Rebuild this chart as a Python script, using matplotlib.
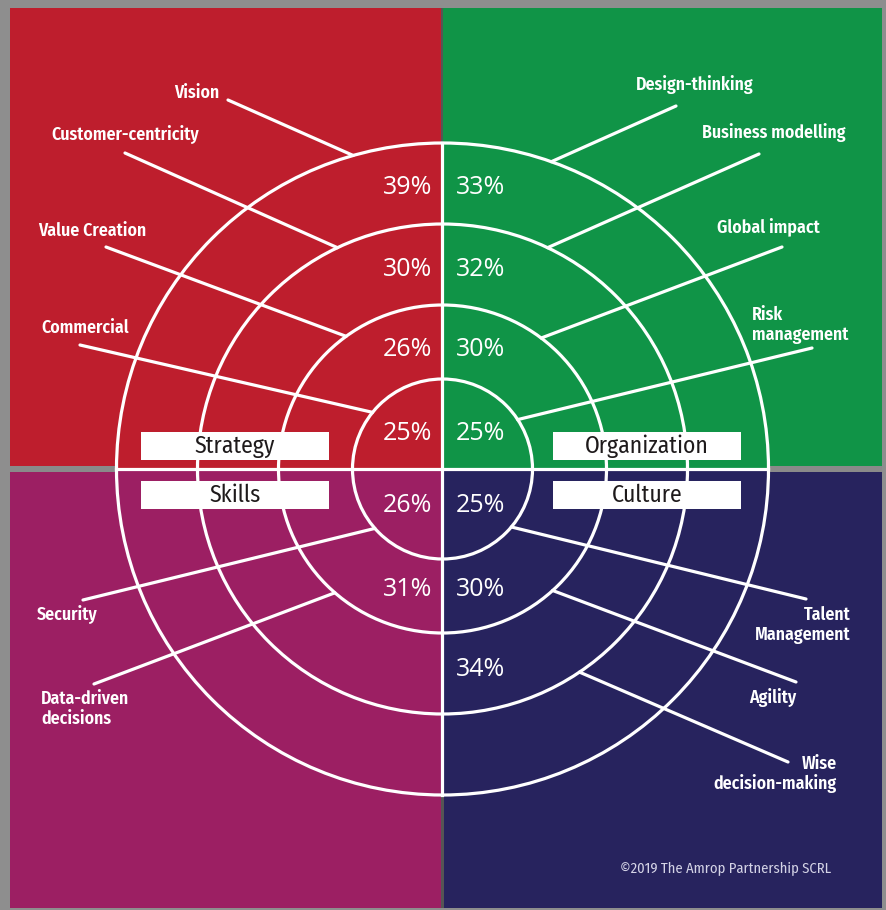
import numpy as np
import matplotlib
matplotlib.use("Agg")
import matplotlib.pyplot as plt
from matplotlib.patches import Rectangle, Circle

# data: items per quadrant, listed from the inner ring outwards
quadrants = ["Strategy", "Organization", "Skills", "Culture"]
strategy_items = ["Commercial", "Value Creation", "Customer-centricity", "Vision"]
strategy_pct = [25, 26, 30, 39]
organization_items = ["Risk\nmanagement", "Global impact", "Business modelling", "Design-thinking"]
organization_pct = [25, 30, 32, 33]
skills_items = ["Security", "Data-driven\ndecisions"]
skills_pct = [26, 31]
culture_items = ["Talent\nManagement", "Agility", "Wise\ndecision-making"]
culture_pct = [25, 30, 34]

# layout (pixels)
W, H = 887, 910
cx, cy = 442.5, 469
radii = [90, 164, 245, 326]
pct_dist = [36, 120, 200, 282]
colors = {"Strategy": "#be1e2d", "Organization": "#109447",
          "Skills": "#9c1f63", "Culture": "#27235e"}

# leader line: angle on ring (deg, counter-clockwise from east), outer end, label pos, align
strategy_lay = [(141, (80, 345), (85, 328), "center"),
                (126, (106, 247), (92, 231), "center"),
                (115.4, (125, 153), (125, 135), "center"),
                (105.9, (228, 100), (197, 93), "center")]
organization_lay = [(33.3, (812, 348), (752, 325), "left"),
                    (53, (782, 247), (768, 228), "center"),
                    (64.6, (759, 154), (774, 133), "center"),
                    (70.5, (676, 106), (695, 85), "center")]
skills_lay = [(-138.7, (83, 600), (67, 615), "center"),
              (-131, (94, 684), (41, 709), "left")]
culture_lay = [(-40.1, (806, 599), (851, 625), "right"),
               (-47.8, (796, 682), (773, 698), "center"),
               (-56, (788, 762), (837, 774), "right")]

narrow = ["Fira Sans Condensed", "Roboto Condensed", "Asap Condensed",
          "Liberation Sans Narrow", "Lato", "DejaVu Sans"]

fig = plt.figure(figsize=(W / 100, H / 100), dpi=100)
fig.patch.set_facecolor("#8e8e8e")
ax = fig.add_axes([0, 0, 1, 1])
ax.set_xlim(0, W)
ax.set_ylim(H, 0)
ax.axis("off")

# quadrant panels
ax.add_patch(Rectangle((10, 8), 433, 461, color=colors["Strategy"], lw=0))
ax.add_patch(Rectangle((443, 8), 439, 461, color=colors["Organization"], lw=0))
ax.add_patch(Rectangle((10, 469), 433, 439, color=colors["Skills"], lw=0))
ax.add_patch(Rectangle((443, 469), 439, 439, color=colors["Culture"], lw=0))
# grey gaps outside the circle
gap = "#8a8a8a"
ax.add_patch(Rectangle((10, 466), cx - radii[-1] - 10, 6, color=gap, lw=0))
ax.add_patch(Rectangle((cx + radii[-1], 466), 882 - cx - radii[-1], 6, color=gap, lw=0))
ax.add_patch(Rectangle((cx - 1, 8), 2, cy - radii[-1] - 8, color="#555555", lw=0))
ax.add_patch(Rectangle((cx - 1.5, cy + radii[-1]), 3, 908 - cy - radii[-1], color="#555555", lw=0))

# rings and axes
for r in radii:
    ax.add_patch(Circle((cx, cy), r, fill=False, ec="white", lw=2.3))
ax.plot([cx - radii[-1], cx + radii[-1]], [cy, cy], color="white", lw=2.3)
ax.plot([cx, cx], [cy - radii[-1], cy + radii[-1]], color="white", lw=2.3)


def draw_quadrant(items, pct, lay, side, up):
    for i, (name, p, (ang, end, tpos, ha)) in enumerate(zip(items, pct, lay)):
        a = np.radians(ang)
        x0 = cx + radii[i] * np.cos(a)
        y0 = cy - radii[i] * np.sin(a)
        ax.plot([x0, end[0]], [y0, end[1]], color="white", lw=2.3,
                solid_capstyle="round")
        ax.text(tpos[0], tpos[1], name, color="white", fontsize=12.8,
                fontweight="semibold", family=narrow, ha=ha, va="center",
                multialignment=ha, linespacing=1.15)
        ty = cy - pct_dist[i] if up else cy + pct_dist[i]
        tx = cx - 10 if side == "left" else cx + 13
        ax.text(tx, ty, f"{p}%", color="white", fontsize=18,
                fontweight="medium", family=["Open Sans", "DejaVu Sans"],
                ha="right" if side == "left" else "left", va="center")


draw_quadrant(strategy_items, strategy_pct, strategy_lay, "left", True)
draw_quadrant(organization_items, organization_pct, organization_lay, "right", True)
draw_quadrant(skills_items, skills_pct, skills_lay, "left", False)
draw_quadrant(culture_items, culture_pct, culture_lay, "right", False)

# quadrant name boxes
boxes = {"Strategy": (141, 432), "Organization": (553, 432),
         "Skills": (141, 481), "Culture": (553, 481)}
for q in quadrants:
    bx, by = boxes[q]
    ax.add_patch(Rectangle((bx, by), 188, 28, color="white", lw=0))
    ax.text(bx + 94, by + 14, q, color="#1e1a1b", fontsize=17, family=narrow,
            fontweight="normal", ha="center", va="center")

ax.text(831, 869, "\u00a92019 The Amrop Partnership SCRL", color="#d4d3e6",
        fontsize=10.5, family=narrow, fontweight="normal", ha="right", va="center")

fig.savefig("out.png", dpi=100, facecolor=fig.get_facecolor())
